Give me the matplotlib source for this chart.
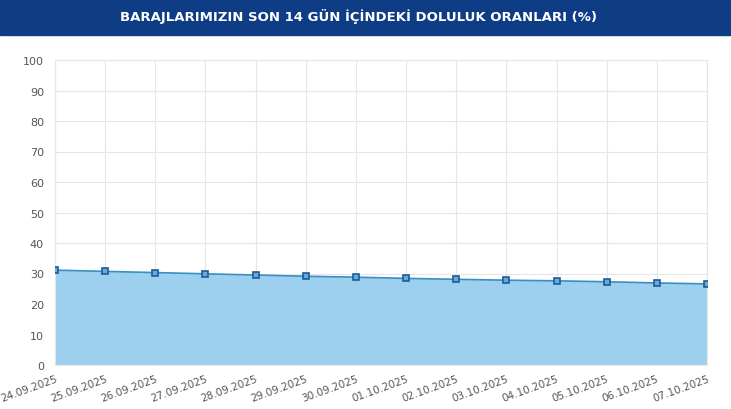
import matplotlib
matplotlib.use("Agg")
import matplotlib.pyplot as plt

dates = ["24.09.2025","25.09.2025","26.09.2025","27.09.2025","28.09.2025","29.09.2025","30.09.2025",
         "01.10.2025","02.10.2025","03.10.2025","04.10.2025","05.10.2025","06.10.2025","07.10.2025"]
values = [31.1,30.7,30.3,29.9,29.5,29.1,28.8,28.4,28.1,27.8,27.6,27.3,26.9,26.6]
title = "BARAJLARIMIZIN SON 14 GÜN İÇİNDEKİ DOLULUK ORANLARI (%)"

W, H = 731, 410
fig = plt.figure(figsize=(W/100, H/100), dpi=100)
fig.patches.append(plt.Rectangle((0, 1-36/H), 1, 36/H, transform=fig.transFigure,
                                 color="#0e3d86", zorder=0))
fig.text(0.49, 1-16/H, title, color="white", fontsize=9.5, fontweight="bold",
         ha="center", va="center")
ax = fig.add_axes([55/W, 1-366/H, (707-55)/W, (366-61)/H])
x = list(range(len(values)))
ax.fill_between(x, values, 0, color="#9dd0ee", zorder=1)
ax.plot(x, values, color="#3a8fc4", lw=1.2, zorder=2)
ax.plot(x, values, "s", ms=5, mfc="#6aa9d8", mec="#1c5c9a", mew=1.2, zorder=3)
ax.set_xlim(0, len(values)-1)
ax.set_ylim(0, 100)
ax.set_yticks(range(0, 101, 10))
ax.set_xticks(x)
ax.set_xticklabels(dates, rotation=20, ha="right", rotation_mode="anchor",
                   fontsize=7.5, color="#555555")
ax.tick_params(axis="y", labelsize=8, colors="#555555", length=0, pad=8)
ax.tick_params(axis="x", length=0, pad=6)
ax.grid(True, color="#e6e6e6", lw=0.8, zorder=0)
ax.set_axisbelow(True)
for s in ax.spines.values():
    s.set_color("#e6e6e6")
fig.savefig("out.png", dpi=100)
